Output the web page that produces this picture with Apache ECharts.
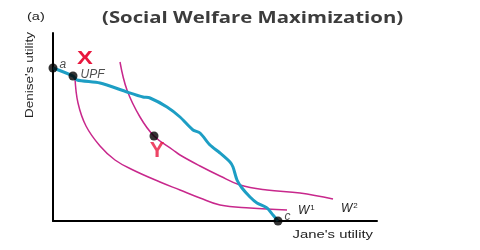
<!DOCTYPE html>
<html><head><meta charset="utf-8">
<script src="https://cdn.jsdelivr.net/npm/echarts@6/dist/echarts.min.js"></script>
<style>html,body{margin:0;padding:0;background:#fff}#c{width:480px;height:250px}</style>
</head><body><div id="c"></div>
<script>
// Utility possibilities frontier (Jane's utility, Denise's utility)
const upf = [[0,153],[20,145],[24,141],[47,138],[74,129],[90,124],[97,123],[114,114],[127,104],[140,91],[147,88],[157,76],[167,68],[177,59],[180,54],[184,41],[189,33],[197,24],[204,18],[214,13],[220,6],[225,0]];
// Social welfare indifference curves
const w1 = [[22,143],[25,118],[33,95],[47,75],[62,61],[80,51],[107,39],[127,31],[147,23],[167,16],[197,13],[234,11]];
const w2 = [[67,159],[74,131],[87,104],[101,85],[120,71],[127,66],[147,55],[167,45],[187,36],[214,31],[247,28],[280,22]];
// Labelled points
const pointNames = ['a','UPF','c'];
const pointValues = [[0,153],[20,145],[225,0]];
const optimumName = 'Y';
const optimumValue = [101,85];
const curveNames = ['1','2'];

const chart = echarts.init(document.getElementById('c'));
const pink = '#c8288c', blue = '#1d9ec4', red = '#e8173e';
const labelOffsets = [[0,-3],[1,-1],[0,-4]];
const supRich = {w:{fontStyle:'italic',fontSize:12,fontFamily:'Liberation Sans',color:'#222'},s:{fontSize:8,fontFamily:'Liberation Sans',color:'#222',verticalAlign:'top',padding:[0,0,6,1]}};
chart.setOption({
  animation:false,
  grid:{left:53,top:33,width:324,height:188,containLabel:false},
  xAxis:{type:'value',min:0,max:324,axisLine:{lineStyle:{color:'#000',width:2}},axisTick:{show:false},axisLabel:{show:false},splitLine:{show:false}},
  yAxis:{type:'value',min:0,max:188,axisLine:{lineStyle:{color:'#000',width:2}},axisTick:{show:false},axisLabel:{show:false},splitLine:{show:false}},
  graphic:[
    {type:'text',x:27,y:12,scaleX:1.45,style:{text:'(a)',font:'10px "Liberation Sans"',fill:'#222'}},
    {type:'text',x:102,y:10,scaleX:1.27,style:{text:'(Social Welfare Maximization)',font:'bold 16px "Open Sans"',fill:'#3c3c3c'}},
    {type:'text',x:30,y:75,rotation:Math.PI/2,scaleY:0.8,style:{text:"Denise's utility",font:'13.5px "Liberation Sans"',fill:'#222',align:'center',verticalAlign:'middle'}},
    {type:'text',x:373,y:229,scaleX:1.35,style:{text:"Jane's utility",font:'11px "Liberation Sans"',fill:'#222',align:'right',verticalAlign:'top'}},
    {type:'text',x:85,y:59,scaleX:1.25,style:{text:'X',font:'bold 19px "Liberation Sans"',fill:red,align:'center',verticalAlign:'middle'}}
  ],
  series:[
    {type:'line',data:w1,smooth:0.4,symbol:'none',lineStyle:{color:pink,width:1.5},z:2,
      endLabel:{show:true,formatter:'{w|W}{s|'+curveNames[0]+'}',offset:[3,1],rich:supRich}},
    {type:'line',data:w2,smooth:0.4,symbol:'none',lineStyle:{color:pink,width:1.5},z:2,
      endLabel:{show:true,formatter:'{w|W}{s|'+curveNames[1]+'}',offset:[0,10],rich:supRich}},
    {type:'line',data:upf,smooth:0.25,symbol:'none',lineStyle:{color:blue,width:3},z:3},
    {type:'scatter',z:5,symbolSize:9,itemStyle:{color:'#000'},
      data:pointValues.map((v,i)=>({value:v,name:pointNames[i],label:{offset:labelOffsets[i]}})),
      label:{show:true,formatter:p=>p.name,position:'right',distance:2,fontStyle:'italic',fontFamily:'Liberation Sans',fontSize:12,color:'#222'}
    },
    {type:'scatter',z:5,symbolSize:9,itemStyle:{color:'#000'},data:[{value:optimumValue,name:optimumName}],
      label:{show:true,formatter:p=>p.name,position:'inside',offset:[3,15],fontWeight:'bold',fontSize:22,fontFamily:'Liberation Sans',color:red}}
  ]
});
</script></body></html>
